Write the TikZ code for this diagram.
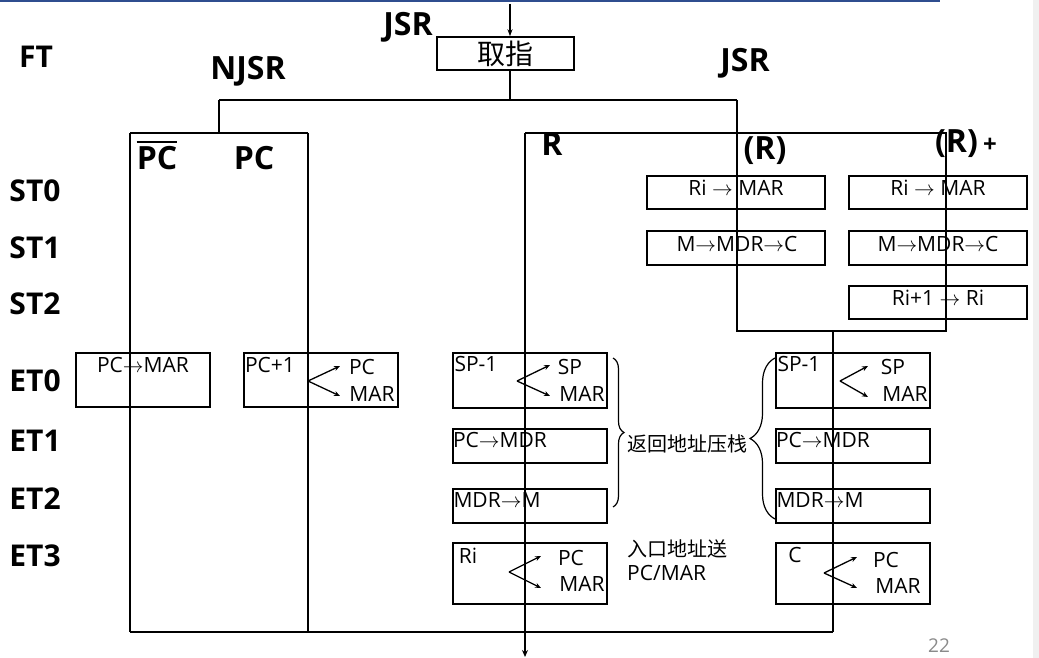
\documentclass[tikz,border=0pt]{standalone}
\usepackage{fontspec}
\setmainfont{Open Sans}
\newfontfamily\cjk{Noto Sans CJK SC}
\usetikzlibrary{decorations.pathreplacing,arrows.meta}
\definecolor{slideblue}{HTML}{2F4D8F}
\definecolor{pagegray}{HTML}{8A8A8A}
\begin{document}
\begin{tikzpicture}[x=1pt,y=-1pt,
  lbl/.style={font=\fontsize{30}{32}\selectfont\bfseries, inner sep=0},
  blbl/.style={font=\fontsize{32}{34}\selectfont\bfseries, inner sep=0},
  box/.style={draw, line width=1.5pt, inner sep=0},
  txt/.style={font=\fontsize{21}{24}\selectfont, inner sep=0},
  cjktxt/.style={font=\cjk\fontsize{20}{23}\selectfont, inner sep=0},
  wire/.style={line width=1.6pt},
  fork/.style={line width=1.3pt, -{Stealth[length=6pt,width=5pt]}},
  brc/.style={line width=1.2pt, decorate},
]
\useasboundingbox (0,0) rectangle (1039,658);
\fill[white] (0,0) rectangle (1039,658);
\fill[gray!12] (1033,0) rectangle (1039,658);
\draw[slideblue, line width=2pt] (0,1) -- (940,1);

% ---- side labels
\node[lbl] (ft) at (36,57) {FT};
\node[lbl] (st0) at (35,191) {ST0};
\node[lbl] (st1) at (35,248) {ST1};
\node[lbl] (st2) at (35,304) {ST2};
\node[lbl] (et0) at (35,381) {ET0};
\node[lbl] (et1) at (35,441) {ET1};
\node[lbl] (et2) at (35,499) {ET2};
\node[lbl] (et3) at (35,556) {ET3};

% ---- branch labels
\node[blbl] (jsrtop) at (408,27) {JSR};
\node[blbl] (njsr) at (248,71) {NJSR};
\node[blbl] (jsr) at (745,63) {JSR};
\node[blbl] (pcbar) at (157,158) {PC};
\draw[line width=1.6pt] ([yshift=4pt]pcbar.north west) -- ([yshift=4pt]pcbar.north east);
\node[blbl] (pc) at (254,158) {PC};
\node[blbl] (rr) at (552,144) {R};
\node[blbl] (ind) at (765,151) {(R)};
\node[blbl] (incr) at (966,144) {(R)\,\fontsize{24}{26}\selectfont +};

% ---- fetch box
\node[box, minimum width=137pt, minimum height=33pt, font=\cjk\fontsize{28}{30}\selectfont] (fetch) at (505.5,53.5) {取指};
\coordinate (entry) at (510,4);
\draw[line width=1.2pt, -{Stealth[length=7pt,width=5pt]}] (entry) -- (fetch.north -| entry);

% ---- wires
\coordinate (fsplit) at (510,100);
\coordinate (nj) at (219,100);
\coordinate (jr) at (737,100);
\coordinate (njbar) at (219,133);
\coordinate (nl) at (130,133);
\coordinate (nr) at (308,133);
\coordinate (nlb) at (130,632);
\coordinate (nrb) at (308,632);
\coordinate (rtop) at (525,133);
\coordinate (rinc) at (946,133);
\coordinate (rincb) at (946,331);
\coordinate (rindb) at (737,331);
\coordinate (mrg) at (833,331);
\coordinate (mrgb) at (833,632);
\coordinate (exit) at (525,657);
\draw[wire] (fetch.south -| fsplit) -- (fsplit);
\draw[wire] (nj) -- (jr);
\draw[wire] (nj) -- (njbar);
\draw[wire] (nl) -- (nr);
\draw[wire] (nl) -- (nlb);
\draw[wire] (nr) -- (nrb);
\draw[wire] (jr) -- (rindb) -- (rincb) -- (rinc) -- (rtop);
\draw[wire] (mrg) -- (mrgb);
\draw[wire] (nlb) -- (mrgb);
\draw[line width=1.5pt, -{Stealth[length=7pt,width=6pt]}] (rtop) -- (exit);

% ---- ST boxes
\node[box, minimum width=178pt, minimum height=33pt] (a0) at (736,192.5) {};
\node[txt] (a0t) at (736,188) {Ri $\rightarrow$ MAR};
\node[box, minimum width=178pt, minimum height=34pt] (a1) at (736,248) {};
\node[txt] (a1t) at (737,244) {M$\rightarrow$MDR$\rightarrow$C};
\node[box, minimum width=178pt, minimum height=33pt] (b0) at (938,192.5) {};
\node[txt] (b0t) at (938,188) {Ri $\rightarrow$ MAR};
\node[box, minimum width=178pt, minimum height=34pt] (b1) at (938,248) {};
\node[txt] (b1t) at (938,244) {M$\rightarrow$MDR$\rightarrow$C};
\node[box, minimum width=178pt, minimum height=33pt] (b2) at (938,302.5) {};
\node[txt] (b2t) at (938,298) {Ri+1 $\rightarrow$ Ri};

% ---- NJSR ET0 boxes
\node[box, minimum width=134pt, minimum height=54pt] (n0) at (143,380) {};
\node[txt] (n0t) at (143,365) {PC$\rightarrow$MAR};
\node[box, minimum width=154pt, minimum height=54pt] (p0) at (321,380) {};
\node[txt] (p0t) at (270,365) {PC+1};
\node[txt] (p0a) at (362,367) {PC};
\node[txt] (p0b) at (372,394) {MAR};
\coordinate (p0f) at (308,381);
\coordinate (p0fa) at (340,366);
\coordinate (p0fb) at (340,396);
\draw[fork] (p0f) -- (p0fa);
\draw[fork] (p0f) -- (p0fb);

% ---- R column
\node[box, minimum width=154pt, minimum height=55pt] (r0) at (530,380.5) {};
\node[txt] (r0t) at (476,364) {SP-1};
\node[txt] (r0a) at (570,367) {SP};
\node[txt] (r0b) at (582,394) {MAR};
\coordinate (r0f) at (517,381);
\coordinate (r0fa) at (550,365);
\coordinate (r0fb) at (550,396);
\draw[fork] (r0f) -- (r0fa);
\draw[fork] (r0f) -- (r0fb);
\node[box, minimum width=154pt, minimum height=34pt] (r1) at (530,446) {};
\node[txt] (r1t) at (500,440) {PC$\rightarrow$MDR};
\node[box, minimum width=154pt, minimum height=34pt] (r2) at (530,506) {};
\node[txt] (r2t) at (497,500) {MDR$\rightarrow$M};
\node[box, minimum width=154pt, minimum height=61pt] (r3) at (530,573.5) {};
\node[txt] (r3t) at (468,556) {Ri};
\node[txt] (r3a) at (571,558) {PC};
\node[txt] (r3b) at (582,584) {MAR};
\coordinate (r3f) at (509,572);
\coordinate (r3fa) at (541,556);
\coordinate (r3fb) at (541,588);
\draw[fork] (r3f) -- (r3fa);
\draw[fork] (r3f) -- (r3fb);

% ---- middle notes
\coordinate (bra) at (613,358);
\coordinate (brb) at (613,507);
\draw[brc, decoration={brace, amplitude=11pt}] (bra) -- (brb);
\node[cjktxt, anchor=west] (push) at (627,444) {返回地址压栈};
\node[cjktxt, anchor=west] (ent1) at (627,549) {入口地址送};
\node[txt, anchor=west] (ent2) at (627,573) {PC/MAR};

% ---- (R)/(R)+ column
\node[box, minimum width=154pt, minimum height=55pt] (s0) at (853,380.5) {};
\node[txt] (s0t) at (799,364) {SP-1};
\node[txt] (s0a) at (893,367) {SP};
\node[txt] (s0b) at (905,394) {MAR};
\coordinate (s0f) at (840,381);
\coordinate (s0fa) at (868,366);
\coordinate (s0fb) at (868,397);
\draw[fork] (s0f) -- (s0fa);
\draw[fork] (s0f) -- (s0fb);
\node[box, minimum width=154pt, minimum height=34pt] (s1) at (853,446) {};
\node[txt] (s1t) at (823,440) {PC$\rightarrow$MDR};
\node[box, minimum width=154pt, minimum height=34pt] (s2) at (853,506) {};
\node[txt] (s2t) at (820,500) {MDR$\rightarrow$M};
\node[box, minimum width=154pt, minimum height=61pt] (s3) at (853,573.5) {};
\node[txt] (s3t) at (795,555) {C};
\node[txt] (s3a) at (886,560) {PC};
\node[txt] (s3b) at (898,586) {MAR};
\coordinate (s3f) at (824,573);
\coordinate (s3fa) at (857,557);
\coordinate (s3fb) at (857,588);
\draw[fork] (s3f) -- (s3fa);
\draw[fork] (s3f) -- (s3fb);
\coordinate (brc) at (775,519);
\coordinate (brd) at (775,358);
\draw[brc, decoration={brace, amplitude=25pt}] (brc) -- (brd);

\node[font=\fontsize{19}{21}\selectfont, text=pagegray, inner sep=0] (page) at (939,646) {22};
\end{tikzpicture}
\end{document}
